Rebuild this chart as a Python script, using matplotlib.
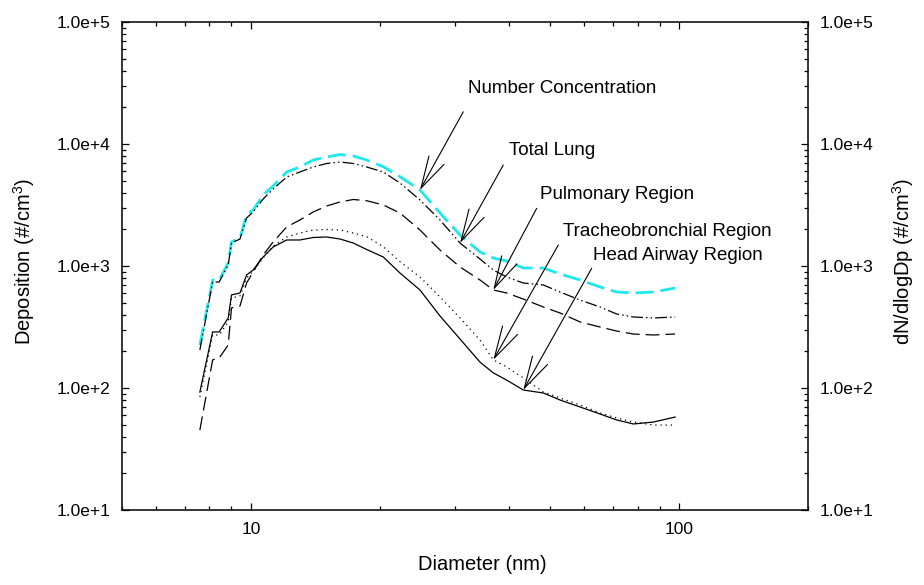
import matplotlib
matplotlib.use('Agg')
import matplotlib.pyplot as plt
from matplotlib.ticker import LogLocator, FuncFormatter, NullFormatter
from matplotlib.patches import ArrowStyle
import math

plt.rcParams['font.family'] = ['Liberation Sans', 'DejaVu Sans']
plt.rcParams['mathtext.fontset'] = 'custom'
plt.rcParams['mathtext.rm'] = 'Liberation Sans'
plt.rcParams['mathtext.it'] = 'Liberation Sans:italic'
plt.rcParams['lines.scale_dashes'] = False

# ---- data ----
diameter = [7.60, 8.14, 8.43, 8.85, 9.01, 9.43, 9.77, 10.12, 10.68, 11.27,
            12.12, 13.01, 13.98, 15.03, 16.14, 17.34, 18.64, 20.38, 22.29, 24.82,
            27.65, 30.79, 34.28, 36.82, 39.57, 43.27, 48.19, 52.72, 58.71, 65.38,
            71.50, 78.21, 87.10, 97.88]
number_conc = [225, 768, 768, 1058, 1573, 1697, 2618, 2877, 3819, 4526,
               5896, 6478, 7394, 7824, 8201, 7972, 7394, 6514, 5395, 4198,
               2719, 1795, 1302, 1163, 1099, 963, 963, 860, 768, 673,
               612, 601, 612, 660]
total_lung = [205, 739, 739, 1019, 1543, 1665, 2474, 2771, 3542, 4277,
              5363, 5896, 6478, 6922, 7121, 6922, 6478, 5896, 4789, 3475,
              2382, 1543, 1141, 927, 813, 725, 699, 612, 526, 461,
              404, 382, 375, 382]
pulmonary = [45.2, 170, 176, 225, 453, 470, 725, 893, 1231, 1573,
             2088, 2382, 2771, 3103, 3346, 3509, 3429, 3162, 2719, 1973,
             1352, 981, 768, 636, 601, 536, 461, 412, 348, 316,
             293, 277, 272, 277]
tracheobronchial = [84.4, 272, 272, 348, 547, 568, 797, 910, 1163, 1458,
                    1729, 1865, 1973, 1992, 1973, 1865, 1739, 1439, 1085, 813,
                    557, 375, 247, 170, 149, 121, 92.7, 82.8, 72.6, 62.4,
                    56.8, 52.6, 49.7, 49.7]
head_airway = [92.7, 288, 288, 375, 579, 601, 844, 927, 1185, 1431,
               1634, 1634, 1713, 1729, 1665, 1543, 1365, 1185, 876, 636,
               389, 252, 163, 133, 116, 96.3, 91.0, 79.7, 69.9, 61.2,
               54.7, 50.7, 52.6, 57.8]

x_ticks = [10, 100]
x_tick_labels = ['10', '100']

W, H = 924, 585
fig = plt.figure(figsize=(W / 100, H / 100), dpi=100)
ax = fig.add_axes([122 / W, 1 - 510 / H, 686 / W, 488 / H])

lw = 0.9
ax.plot(diameter, number_conc, color='#1ee8ec', lw=2.0, dashes=(13, 5))
ax.plot(diameter, total_lung, color='black', lw=lw, dashes=(8.5, 2.2, 1.1, 2.2, 1.1, 2.2))
ax.plot(diameter, pulmonary, color='black', lw=lw, dashes=(10, 4.3))
ax.plot(diameter, tracheobronchial, color='black', lw=lw, dashes=(0.9, 2.8))
ax.plot(diameter, head_airway, color='black', lw=lw)

ax.set_xscale('log')
ax.set_yscale('log')
ax.set_xlim(5, 200)
ax.set_ylim(10, 1e5)

ax.set_xticks(x_ticks)
ax.set_xticklabels(x_tick_labels)
ax.xaxis.set_minor_locator(LogLocator(base=10, subs=range(2, 10)))
ax.xaxis.set_minor_formatter(NullFormatter())
ax.yaxis.set_major_locator(LogLocator(base=10, numticks=10))
ax.yaxis.set_minor_locator(LogLocator(base=10, subs=range(2, 10), numticks=20))
ax.yaxis.set_minor_formatter(NullFormatter())


def fmt(v, pos):
    e = int(round(math.log10(v)))
    m = v / 10 ** e
    return f"{m:.1f}e+{e}"


ax.yaxis.set_major_formatter(FuncFormatter(fmt))

for s in ax.spines.values():
    s.set_linewidth(1.1)

ax.tick_params(which='both', direction='in', top=True, right=True,
               labelright=True, width=0.9, labelsize=12.5)
ax.tick_params(which='major', length=5, pad=8.5)
ax.tick_params(which='minor', length=3)

fig.text(482 / W, 1 - 565 / H, 'Diameter (nm)', ha='center', va='center', fontsize=14.5)
fig.text(24 / W, 1 - 262 / H, 'Deposition (#/cm$^3$)', ha='center', va='center',
         rotation=90, fontsize=14.5)
fig.text(903 / W, 1 - 262 / H, 'dN/dlogDp (#/cm$^3$)', ha='center', va='center',
         rotation=90, fontsize=14.5)

labels = ['Number Concentration', 'Total Lung', 'Pulmonary Region',
          'Tracheobronchial Region', 'Head Airway Region']
label_pos = [(0.641, 0.863), (0.6276, 0.7357), (0.7223, 0.6475),
             (0.795, 0.5717), (0.811, 0.5205)]
arrow_tail = [(0.4975, 0.816), (0.5558, 0.707), (0.6045, 0.6182),
              (0.636, 0.543), (0.6847, 0.4953)]
tips = [(diameter[19], number_conc[19]), (diameter[21], total_lung[21]),
        (diameter[23], pulmonary[23]), (diameter[23], tracheobronchial[23]),
        (diameter[25], head_airway[25])]

style = ArrowStyle('->', head_length=2.3, head_width=0.62)
for lab, lp, tail, tip in zip(labels, label_pos, arrow_tail, tips):
    ax.text(lp[0], lp[1], lab, transform=ax.transAxes, ha='center', va='center',
            fontsize=13.5)
    ax.annotate('', xy=tip, xycoords='data', xytext=tail, textcoords='axes fraction',
                arrowprops=dict(arrowstyle=style, color='black', lw=0.8,
                                shrinkA=0, shrinkB=0, mutation_scale=10))

fig.savefig('out.png', dpi=100, facecolor='white')
